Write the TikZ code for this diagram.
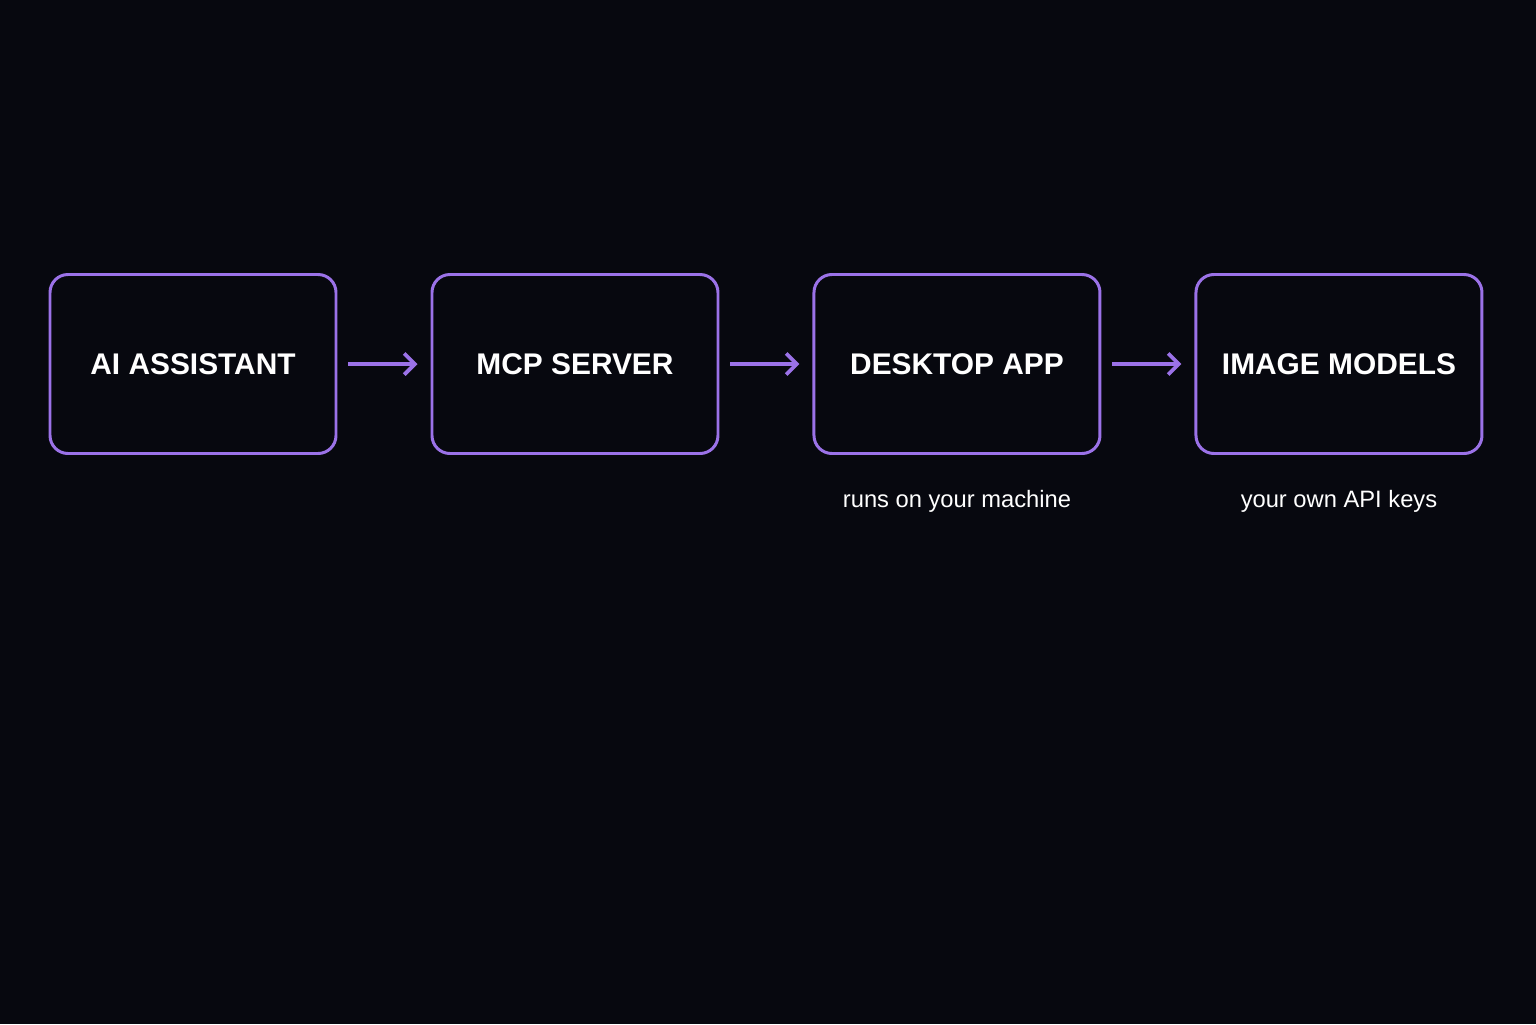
\documentclass[tikz,border=0pt]{standalone}
\usepackage{fontspec}
\setmainfont{Liberation Sans}
\usetikzlibrary{arrows.meta}
\usetikzlibrary{positioning}
\definecolor{bgdark}{HTML}{07080F}
\definecolor{boxline}{HTML}{9B72E8}
\tikzstyle{stage}=[draw=boxline,line width=1.7pt,rounded corners=0.36cm,minimum width=5.72cm,minimum height=3.58cm,inner sep=0pt,text=white,font=\fontsize{17}{20}\selectfont\bfseries]
\tikzstyle{note}=[text=white,inner sep=0pt,font=\fontsize{13.5}{16}\selectfont]
\begin{document}
\begin{tikzpicture}[node distance=1.86cm]
\fill[bgdark] (0,0) rectangle (30.72,20.48);
\useasboundingbox (0,0) rectangle (30.72,20.48);
\tikzstyle{flow}=[->,>={Straight Barb[length=6pt,width=12pt]},draw=boxline,line width=2.2pt,shorten <=0.22cm,shorten >=0.26cm]
    \node [stage] (ai) at (3.86,13.2) {AI ASSISTANT};
    \node [stage,right=of ai] (mcp) {MCP SERVER};
    \node [stage,right=of mcp] (app) {DESKTOP APP};
    \node [stage,right=of app] (img) {IMAGE MODELS};

    \node [note,below=0.7cm of app.south] (appnote) {runs on your machine};
    \node [note,below=0.7cm of img.south] (imgnote) {your own API keys};

%arrows between stages
\draw[flow] (ai) -- (mcp);
\draw[flow] (mcp) -- (app);
\draw[flow] (app) -- (img);
\end{tikzpicture}
\end{document}
